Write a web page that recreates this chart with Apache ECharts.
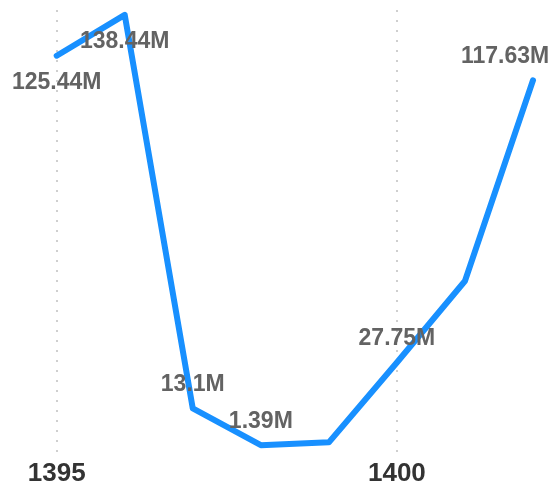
<!DOCTYPE html>
<html>
<head>
<meta charset="utf-8">
<script src="https://cdn.jsdelivr.net/npm/echarts@6/dist/echarts.min.js"></script>
<style>html,body{margin:0;padding:0;background:#fff}#c{width:554px;height:487px}</style>
</head>
<body>
<div id="c"></div>
<script>
var years = ['1395', '1396', '1397', '1398', '1399', '1400', '1401', '1402'];
var values = [125.44, 138.44, 13.1, 1.39, 2.3, 27.75, 53.7, 117.63];
var labelShown = [true, true, true, true, false, true, false, true];
var labelPos = ['bottom', 'bottom', 'top', 'top', 'top', 'top', 'top', 'top'];

var chart = echarts.init(document.getElementById('c'));
var FONT = '"Liberation Sans", Arial, Helvetica, sans-serif';
var data = values.map(function (v, i) {
  var item = {
    value: v,
    label: {
      show: labelShown[i],
      position: labelPos[i],
      distance: labelPos[i] === 'top' ? 11 : 14
    }
  };
  if (i === values.length - 1) item.label.offset = [-28, 0];
  return item;
});
chart.setOption({
  animation: false,
  grid: { left: 56.7, right: 21, top: 10, bottom: 34.3, containLabel: false },
  xAxis: {
    type: 'category',
    data: years,
    boundaryGap: false,
    axisLine: { show: false },
    axisTick: { show: false },
    axisLabel: {
      interval: 4,
      margin: 8,
      fontSize: 26,
      fontWeight: 'bold',
      color: '#333333',
      fontFamily: FONT
    },
    splitLine: {
      show: true,
      interval: 4,
      lineStyle: { type: [2, 8], width: 2, color: '#cfcfcf' }
    }
  },
  yAxis: {
    type: 'value',
    min: -1,
    max: 140,
    show: false,
    splitLine: { show: false }
  },
  series: [{
    type: 'line',
    data: data,
    showSymbol: true,
    showAllSymbol: true,
    symbol: 'circle',
    symbolSize: 2,
    lineStyle: { color: '#1890ff', width: 6, cap: 'round', join: 'round' },
    itemStyle: { color: 'rgba(24,144,255,0)', borderWidth: 0 },
    label: {
      show: true,
      fontSize: 23,
      fontWeight: 'bold',
      color: '#636363',
      fontFamily: FONT,
      formatter: function (p) { return p.value + 'M'; }
    }
  }]
});
</script>
</body>
</html>
